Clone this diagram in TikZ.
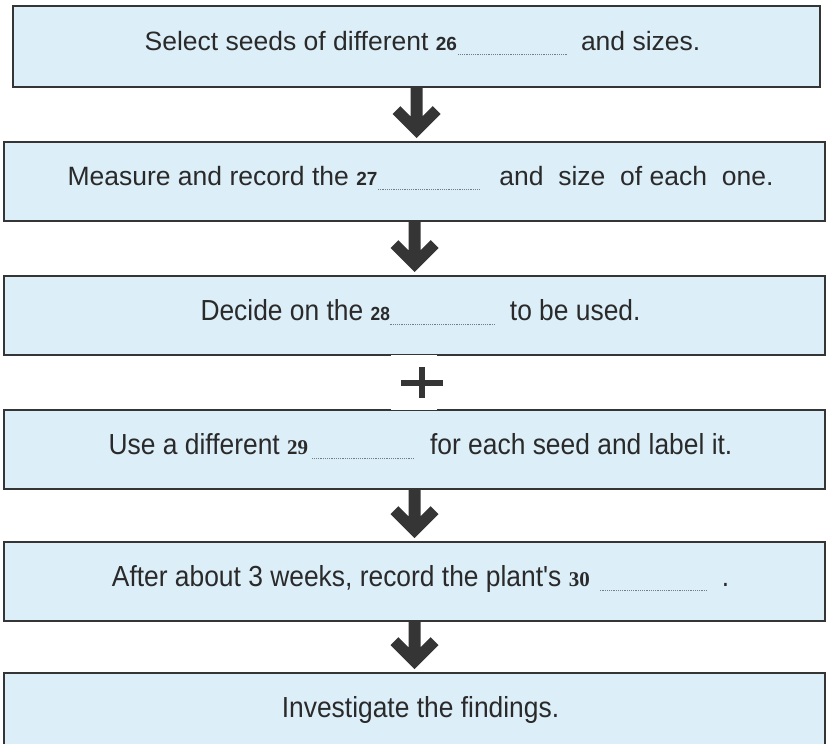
\documentclass[tikz,border=0pt]{standalone}
\usepackage{fontspec}
\setmainfont{Liberation Sans}
\newfontfamily\serifnum{Liberation Serif}
\newfontfamily\narrowsans{Liberation Sans}[FakeStretch=0.91]
\usetikzlibrary{positioning,calc}

\definecolor{boxfill}{HTML}{DCEEF8}
\definecolor{ink}{HTML}{353535}
\definecolor{dotcol}{HTML}{767C86}

% question numbers and answer gaps
\newcommand{\qn}[1]{{\fontsize{19}{20}\selectfont\bfseries #1}}
\newcommand{\qs}[1]{{\fontsize{21}{22}\selectfont\serifnum\bfseries #1}}
\newcommand{\gap}[1]{\raisebox{-5pt}{\color{dotcol}\makebox[#1]{\leaders\hbox to 2.2pt{\hss\rule{1.2pt}{1.2pt}\hss}\hfill}}}

% thick down arrow from box #1 to box #2
\newcommand{\flowarr}[2]{%
  \coordinate (t) at ($(#1.south |- #2.north)+(0,-3)$);
  \fill[ink] ($(#1.south)+(-6,-2)$) -- ($(#1.south)+(6,-2)$) -- ($(t)+(6,-21.6)$)
    -- ($(t)+(16.2,-31.8)$) -- ($(t)+(24,-24)$) -- (t) -- ($(t)+(-24,-24)$)
    -- ($(t)+(-16.2,-31.8)$) -- ($(t)+(-6,-21.6)$) -- cycle;}

\tikzset{
  stepbox/.style={draw=ink, line width=2pt, fill=boxfill, minimum width=821pt,
    minimum height=79pt, inner sep=0pt, text=ink!80!black,
    font=\fontsize{26.5}{30}\selectfont, text height=19pt, text depth=12pt,
    execute at begin node=\hspace*{12pt}},
  narrowbox/.style={stepbox, font=\narrowsans\fontsize{29}{32}\selectfont,
    text height=20pt, text depth=11pt}
}

\begin{document}
\begin{tikzpicture}[x=1pt,y=-1pt]
\useasboundingbox (0,0) rectangle (827,744);
\fill[white] (0,0) rectangle (827,744);

\node[stepbox, minimum width=807pt, minimum height=81pt] (sel) at (416.5,46.5)
  {Select seeds of different \qn{26}\gap{110pt}\hspace{14pt}and sizes.};
\node[stepbox, below=53pt of sel, xshift=-2pt] (meas)
  {Measure and record the \qn{27}\gap{104pt}\hspace{18pt}and\ \ size\ \ of each\ \ one.};
\node[narrowbox, below=53pt of meas] (dec)
  {Decide on the \qn{28}\gap{106pt}\hspace{14pt}to be used.};
\node[narrowbox, below=53pt of dec] (use)
  {Use a different \qs{29}\kern3pt\gap{105pt}\hspace{14pt}for each seed and label it.};
\node[narrowbox, below=51pt of use] (rec)
  {After about 3 weeks, record the plant's \qs{30}\kern10pt\gap{108pt}\hspace{14pt}.};
\node[narrowbox, below=50pt of rec] (inv) {Investigate the findings.};

\flowarr{sel}{meas}
\flowarr{meas}{dec}
\flowarr{use}{rec}
\flowarr{rec}{inv}

% broken link between dec and use
\coordinate (m) at ($(dec.south)!0.5!(use.north)+(7,0)$);
\fill[white] ($(dec.south)+(-24,-1.3)$) rectangle ($(dec.south)+(22,1.3)$);
\fill[white] ($(use.north)+(-24,-1.3)$) rectangle ($(use.north)+(22,1.3)$);
\fill[ink] ($(m)+(-21,-3)$) rectangle ($(m)+(21,3)$);
\fill[ink] ($(m)+(-3,-16)$) rectangle ($(m)+(3,15)$);
\end{tikzpicture}
\end{document}
